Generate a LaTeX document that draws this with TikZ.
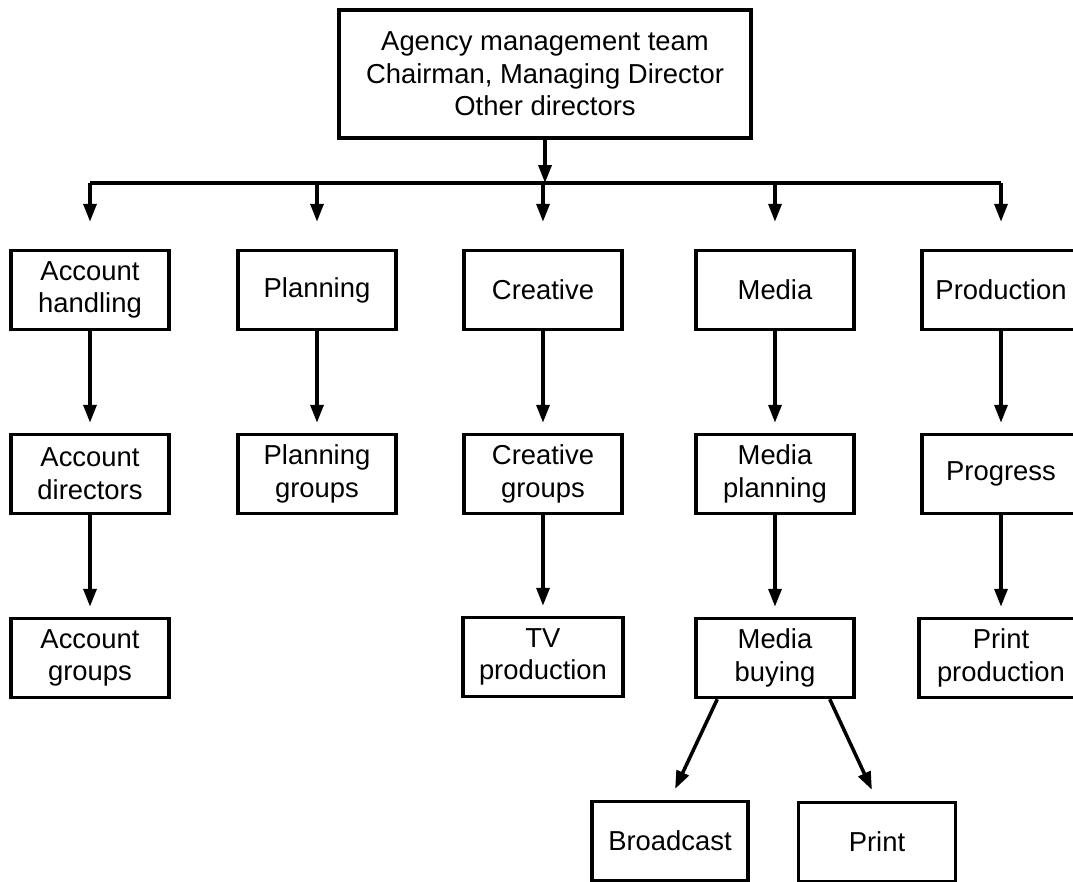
\documentclass[tikz,border=0pt]{standalone}
\usepackage{fontspec}
\setmainfont{Liberation Sans}
\usetikzlibrary{arrows.meta, positioning}

\begin{document}
\begin{tikzpicture}[x=0.02cm, y=-0.02cm, line width=2pt,
        >={Triangle[length=3.6mm, width=2.6mm]},
        unit/.style={draw, align=center, inner sep=0pt,
            minimum width=3.16cm, minimum height=1.58cm,
            font=\fontsize{15.6}{18.6}\selectfont}]
    \useasboundingbox (0,0) rectangle (1073,882);

    % Management team
    \node[unit, minimum width=8.24cm, minimum height=2.56cm] (team) at (545,74)
        {Agency management team\\Chairman, Managing Director\\Other directors};

    % Departments
    \node[unit] (acc)   at (90,290)   {Account\\handling};
    \node[unit] (plan)  at (317,290)  {Planning};
    \node[unit] (crea)  at (543,290)  {Creative};
    \node[unit] (media) at (775,290)  {Media};
    \node[unit] (prod)  at (1001,290) {Production};

    % Second level
    \node[unit] (accdir) at (90,474)   {Account\\directors};
    \node[unit] (plangr) at (317,474)  {Planning\\groups};
    \node[unit] (creagr) at (543,474)  {Creative\\groups};
    \node[unit] (mplan)  at (775,474)  {Media\\planning};
    \node[unit] (progr)  at (1001,474) {Progress};

    % Third level
    \node[unit] (accgr)  at (90,658)  {Account\\groups};
    \node[unit, minimum width=3.2cm] (tvprod) at (543,657) {TV\\production};
    \node[unit] (mbuy)   at (775,658) {Media\\buying};
    \node[unit, minimum width=3.28cm] (prprod) at (1001,658) {Print\\production};

    % Media buying split
    \node[unit, minimum width=3.12cm] (bcast) at (670,841) {Broadcast};
    \node[unit, minimum width=3.14cm] (print) at (877,842) {Print};

    % Distribution line
    \coordinate (bus) at (545,183);
    \draw[->] (team.south) -- (bus);
    \draw (bus -| acc.north) -- (bus -| prod.north);
    \foreach \d in {acc, plan, crea, media, prod}
        \draw[->, shorten >=0.54cm] (bus -| \d.north) -- (\d.north);

    % Columns
    \draw[->, shorten >=0.2cm] (acc.south) -- (accdir.north);
    \draw[->, shorten >=0.2cm] (accdir.south) -- (accgr.north);
    \draw[->, shorten >=0.2cm] (plan.south) -- (plangr.north);
    \draw[->, shorten >=0.2cm] (crea.south) -- (creagr.north);
    \draw[->, shorten >=0.2cm] (creagr.south) -- (tvprod.north);
    \draw[->, shorten >=0.2cm] (media.south) -- (mplan.north);
    \draw[->, shorten >=0.2cm] (mplan.south) -- (mbuy.north);
    \draw[->, shorten >=0.2cm] (prod.south) -- (progr.north);
    \draw[->, shorten >=0.2cm] (progr.south) -- (prprod.north);

    % Broadcast and print
    \draw[->, shorten >=0.24cm] ([xshift=0.46cm]mbuy.south west) -- (bcast.north);
    \draw[->, shorten >=0.24cm] ([xshift=-0.52cm]mbuy.south east) -- (print.north);
\end{tikzpicture}
\end{document}
